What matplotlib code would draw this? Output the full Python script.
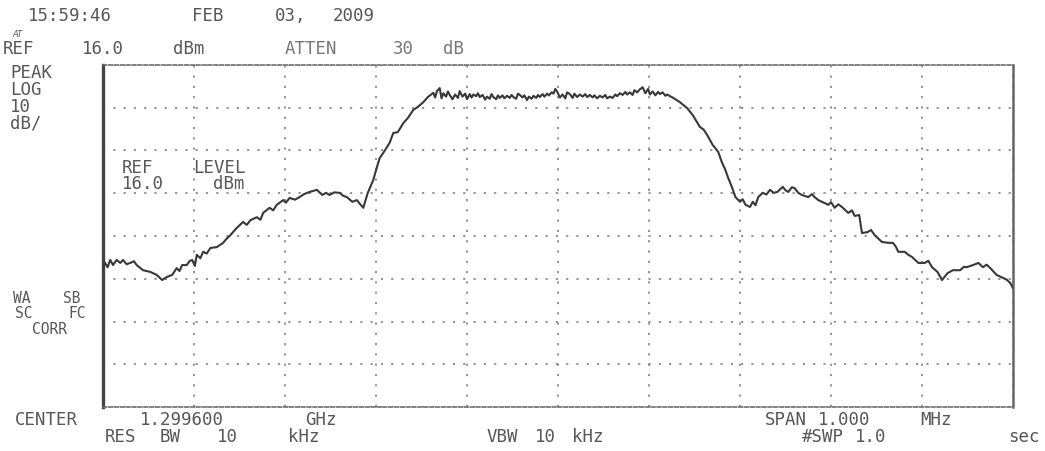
import matplotlib
matplotlib.use('Agg')
import matplotlib.pyplot as plt

# Spectrum analyzer screen dump, center 1.2996 GHz, span 1 MHz
W, H = 1045, 451

# trace: frequency offset from center [kHz], level [dBm]
# lower skirt and rising edge
rise_khz = [
    -500, -498, -495, -492, -489, -485, -481, -478, -474, -470, -466, -463,
    -456, -448, -441, -435, -430, -424, -419, -416, -413, -408, -405, -402,
    -399, -397, -393, -390, -386, -382, -375, -368, -364, -360, -353, -346,
    -342, -338, -331, -327, -324, -317, -313, -309, -302, -299, -295, -289,
    -284, -279, -273, -265, -259, -255, -251, -246, -240, -236, -232, -226,
    -221, -218, -214, -209, -203, -199, -196, -190, -185, -181, -176, -170,
    -165, -159, -154, -148, -143,
]
rise_dbm = [
    -31.5, -30.2, -31.3, -29.6, -30.8, -29.6, -30.3, -29.6, -30.6, -30.3, -29.9, -30.8,
    -32.0, -32.4, -33.1, -34.3, -33.6, -33.1, -31.5, -32.2, -30.8, -30.8, -29.9, -29.6,
    -31.0, -28.4, -29.2, -27.7, -28.1, -26.8, -26.6, -25.6, -24.6, -23.8, -22.1, -20.7,
    -21.4, -20.3, -19.6, -20.2, -18.6, -17.4, -18.0, -16.7, -15.6, -16.2, -15.1, -15.5,
    -14.9, -14.2, -13.7, -13.2, -14.4, -13.9, -14.4, -13.8, -13.9, -14.6, -14.9, -16.0,
    -15.6, -16.4, -17.4, -13.9, -10.9, -7.9, -5.8, -3.9, -2.2, 0.1, 0.3, 2.4,
    3.6, 5.5, 6.2, 7.3, 8.5,
]
# top of the channel
top_khz = [
    -137, -135, -133, -130, -128, -126, -123, -121, -119, -116, -113, -110,
    -108, -105, -102, -100, -97, -95, -93, -90, -88, -86, -83, -80,
    -78, -75, -73, -71, -68, -66, -64, -61, -59, -56, -53, -51,
    -49, -46, -44, -42, -39, -37, -34, -32, -29, -27, -24, -22,
    -20, -17, -15, -12, -10, -7, -5, -3, -1, 2, 5, 8,
    10, 13, 16, 18, 21, 24, 27, 30, 32, 35, 38, 40,
    43, 46, 49, 52, 54, 57, 60, 63, 65, 68, 71, 74,
    76, 79, 82, 84, 87, 90, 93, 96, 99, 101, 104, 107,
    110, 112, 115, 118, 120, 123, 126,
]
top_dbm = [
    9.5, 8.4, 9.9, 10.6, 8.2, 9.4, 8.6, 9.8, 9.0, 8.0, 9.1, 8.3,
    9.9, 8.6, 9.3, 8.0, 9.2, 8.4, 9.1, 8.7, 9.4, 8.5, 9.0, 7.9,
    8.6, 8.1, 9.2, 8.5, 8.0, 8.9, 8.3, 8.9, 8.2, 8.8, 8.3, 9.0,
    8.5, 8.1, 9.3, 9.0, 8.4, 8.9, 7.8, 8.6, 8.1, 8.8, 8.3, 9.0,
    8.5, 9.2, 8.6, 9.3, 8.9, 9.6, 9.3, 10.4, 9.8, 8.4, 9.1, 8.2,
    9.6, 9.2, 8.3, 9.3, 8.5, 9.1, 8.6, 9.2, 8.5, 9.0, 8.4, 8.9,
    8.2, 8.8, 8.4, 9.0, 8.2, 8.6, 8.3, 9.1, 8.7, 9.4, 9.0, 9.7,
    9.1, 9.6, 9.0, 10.1, 9.6, 10.3, 10.8, 9.4, 10.4, 9.1, 9.8, 8.9,
    9.7, 9.2, 9.6, 8.8, 9.1, 8.7, 8.4,
]
# falling edge and upper skirt
fall_khz = [
    134, 142, 148, 156, 160, 164, 170, 176, 180, 184, 187, 191,
    195, 200, 203, 206, 211, 214, 217, 220, 225, 229, 233, 237,
    241, 247, 250, 253, 257, 260, 264, 268, 275, 279, 282, 286,
    290, 297, 300, 304, 308, 312, 319, 323, 326, 331, 334, 340,
    344, 348, 356, 363, 368, 371, 374, 381, 385, 389, 396, 403,
    407, 411, 417, 422, 428, 434, 442, 446, 449, 456, 462, 467,
    471, 475, 482, 489, 493, 497, 500,
]
fall_dbm = [
    7.3, 5.9, 4.3, 1.5, 0.9, -0.4, -2.7, -4.3, -6.7, -8.6, -10.4, -12.5,
    -14.9, -16.0, -15.4, -16.7, -17.2, -16.0, -16.8, -14.9, -13.9, -14.3, -13.2, -13.9,
    -13.7, -12.5, -13.3, -13.7, -12.6, -12.8, -13.9, -14.4, -14.9, -14.2, -14.9, -15.6,
    -16.0, -16.7, -16.1, -17.4, -16.6, -17.2, -18.6, -18.0, -19.3, -19.1, -23.3, -23.1,
    -22.6, -23.8, -25.4, -25.6, -25.6, -26.4, -27.7, -27.7, -28.4, -28.9, -30.3, -30.3,
    -29.8, -31.3, -32.4, -34.3, -32.7, -32.0, -32.0, -31.2, -31.3, -30.8, -30.3, -31.3,
    -30.7, -31.5, -33.1, -33.8, -34.2, -35.0, -36.2,
]

ref_level = 16.0   # dBm, top of screen
db_per_div = 10
span_khz = 1000

ink = '#575757'
mono = 'DejaVu Sans Mono'

fig = plt.figure(figsize=(W / 100, H / 100), dpi=100)
ax = fig.add_axes([103 / W, 1 - 407 / H, 910 / W, 342 / H])

trace_khz = rise_khz + top_khz + fall_khz
trace_dbm = rise_dbm + top_dbm + fall_dbm
ax.plot(trace_khz, trace_dbm, color='#383838', linewidth=1.5, zorder=3)

ax.set_xlim(-span_khz / 2, span_khz / 2)
ax.set_ylim(ref_level - 8 * db_per_div, ref_level)
ax.set_xticks([-span_khz / 2 + i * span_khz / 10 for i in range(11)])
ax.set_yticks([ref_level - i * db_per_div for i in range(9)])
ax.tick_params(length=0, labelbottom=False, labelleft=False)
ax.grid(True, color='#8a8a8a', linestyle=(0, (1.2, 4.5)), linewidth=1.3)

# frame: solid sides, dashed top and bottom
ax.spines['left'].set_linewidth(2.4)
ax.spines['left'].set_color('#444444')
ax.spines['right'].set_linewidth(1.8)
ax.spines['right'].set_color('#666666')
for side in ['top', 'bottom']:
    ax.spines[side].set_linewidth(1.2)
    ax.spines[side].set_color('#707070')
    ax.spines[side].set_linestyle((0, (2.2, 1.3)))


def label(words, y, size=12.5, color=ink):
    # words: (text, left x px); y: baseline px from the top
    for s, x in words:
        fig.text(x / W, 1 - y / H, s, fontsize=size, family=mono,
                 color=color, ha='left', va='baseline')


label([('15:59:46', 28), ('FEB', 192), ('03,', 275), ('2009', 333)], 21)
fig.text(12 / W, 1 - 37 / H, 'AT', fontsize=6, style='italic', color=ink)
label([('REF', 3), ('16.0', 82), ('dBm', 173)], 54)
label([('ATTEN', 285), ('30', 393), ('dB', 443)], 54, color='#777777')

label([('PEAK', 10)], 78)
label([('LOG', 10)], 95)
label([('10', 10)], 112)
label([('dB/', 10)], 129)

label([('REF', 122), ('LEVEL', 193)], 173)
label([('16.0', 122), ('dBm', 213)], 189)

# correction flags, tighter rows
label([('WA', 13), ('SB', 63)], 303, size=10.5)
label([('SC', 15), ('FC', 68)], 318, size=10.5)
label([('CORR', 32)], 334, size=10.5)

label([('CENTER', 15), ('1.299600', 140), ('GHz', 305)], 425)
label([('RES', 105), ('BW', 160), ('10', 217), ('kHz', 288)], 442)
label([('VBW', 487), ('10', 535), ('kHz', 572)], 442)
label([('SPAN', 765), ('1.000', 818), ('MHz', 920)], 425)
label([('#SWP', 802), ('1.0', 855), ('sec', 1008)], 442)

fig.savefig('out.png', dpi=100, facecolor='white')
